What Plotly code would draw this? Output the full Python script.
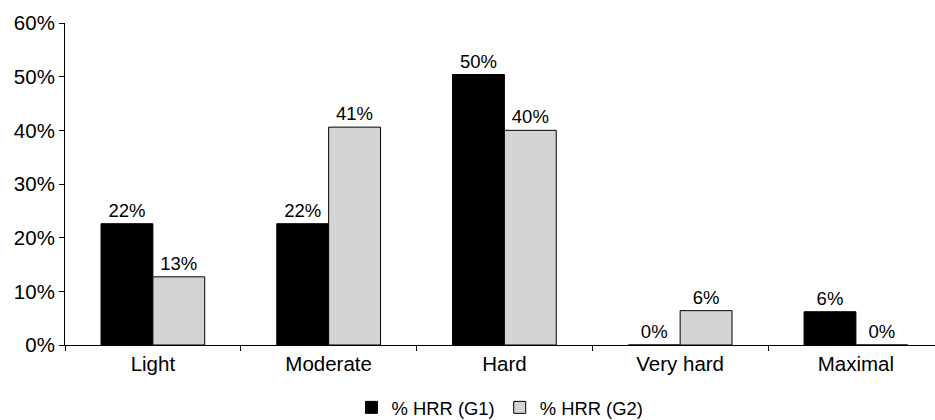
import plotly.graph_objects as go

categories = ["Light", "Moderate", "Hard", "Very hard", "Maximal"]
g1_values = [22.6, 22.6, 50.4, 0.0, 6.2]
g2_values = [12.7, 40.6, 40.0, 6.4, 0.0]
g1_labels = ["22%", "22%", "50%", "0%", "6%"]
g2_labels = ["13%", "41%", "40%", "6%", "0%"]
series_names = ["% HRR (G1)", "% HRR (G2)"]
y_ticks = [0, 10, 20, 30, 40, 50, 60]
y_tick_labels = ["0%", "10%", "20%", "30%", "40%", "50%", "60%"]

FONT = "Liberation Sans, Arial, Helvetica, sans-serif"

fig = go.Figure()
fig.add_trace(go.Bar(
    x=categories, y=g1_values, name=series_names[0],
    text=g1_labels, textposition="outside", cliponaxis=False,
    textfont=dict(size=18.5, color="black", family=FONT),
    marker=dict(color="black", line=dict(color="black", width=1)),
))
fig.add_trace(go.Bar(
    x=categories, y=g2_values, name=series_names[1],
    text=g2_labels, textposition="outside", cliponaxis=False,
    textfont=dict(size=18.5, color="black", family=FONT),
    marker=dict(color="#d4d4d4", line=dict(color="black", width=1)),
))

fig.update_layout(
    width=935, height=420,
    margin=dict(l=65, r=0, t=23, b=75, autoexpand=False),
    paper_bgcolor="white", plot_bgcolor="white",
    font=dict(family=FONT, size=18, color="black"),
    barmode="group", bargap=0.41, bargroupgap=0,
    showlegend=True,
    legend=dict(orientation="h", x=0.5, xanchor="center", yref="container",
                y=0.03, yanchor="middle", font=dict(size=18.4), traceorder="normal"),
    xaxis=dict(range=[-0.5, 4.45], showline=True, linecolor="black", linewidth=1,
               ticks="outside", tickson="boundaries", ticklen=5, tickcolor="black",
               showgrid=False, zeroline=False, tickfont=dict(size=20.5),
               automargin=False),
    yaxis=dict(range=[0, 60], tickvals=y_ticks, ticktext=y_tick_labels,
               showline=True, linecolor="black", linewidth=1,
               ticks="outside", ticklen=5, tickcolor="black",
               showgrid=False, zeroline=False, tickfont=dict(size=20.5),
               automargin=False),
)

fig.write_html(
    "out.html",
    config={"displayModeBar": False},
    post_script="document.body.style.margin='0px';document.body.style.overflow='hidden';",
)
